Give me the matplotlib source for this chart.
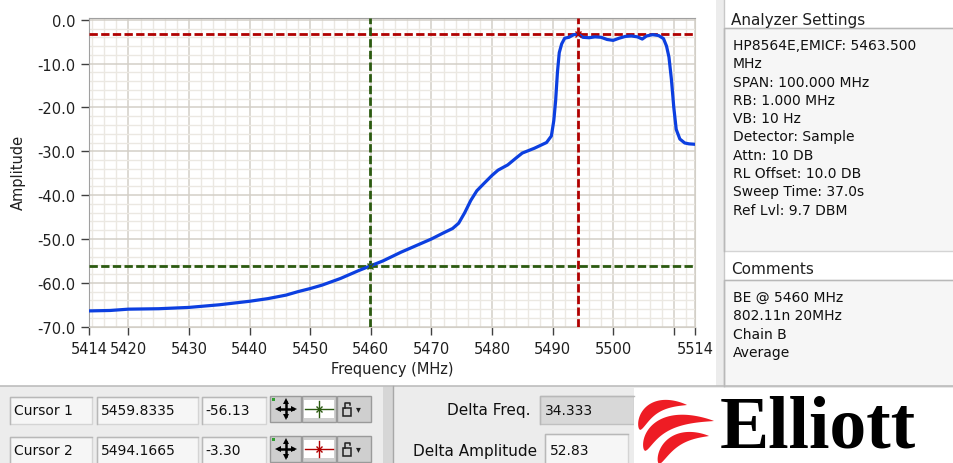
import matplotlib
matplotlib.use('Agg')
import matplotlib.pyplot as plt
import numpy as np
from matplotlib.patches import Rectangle, Polygon

W, H = 954, 464

# spectrum trace (MHz, dB)
freq = [5413.5, 5417, 5420, 5425, 5430, 5435, 5440, 5443, 5446, 5448,
        5450, 5452, 5455, 5458, 5460, 5462, 5465, 5468, 5470, 5472,
        5473.5, 5474.5, 5475.5, 5476.5, 5477.5, 5478.7, 5480, 5481, 5482.6, 5484,
        5485, 5487, 5489, 5489.8, 5490.2, 5490.5, 5490.8, 5491.1, 5491.5, 5492,
        5492.7, 5493.5, 5494.2, 5495, 5496, 5497, 5498, 5499, 5500, 5501,
        5502, 5503, 5504, 5504.8, 5505.5, 5506.5, 5507.5, 5508.3, 5508.8, 5509.2,
        5509.6, 5510, 5510.4, 5511, 5511.8, 5512.5, 5513.5]
amp = [-66.4, -66.3, -66.0, -65.9, -65.6, -65.0, -64.2, -63.6, -62.8, -62.0,
       -61.3, -60.5, -59.0, -57.2, -56.1, -55.0, -53.0, -51.2, -50.0, -48.6,
       -47.6, -46.4, -44.0, -41.2, -39.0, -37.3, -35.5, -34.3, -33.1, -31.5,
       -30.4, -29.3, -28.0, -26.5, -23.0, -18.5, -12.0, -7.5, -5.5, -4.2,
       -4.0, -3.4, -3.3, -4.0, -4.1, -3.9, -4.0, -4.5, -4.7, -4.2,
       -3.8, -3.7, -3.9, -4.4, -3.7, -3.4, -3.6, -4.3, -6.0, -8.5,
       -13.5, -20.0, -25.0, -27.2, -28.1, -28.3, -28.4]

cursor1 = (5459.8335, -56.13)
cursor2 = (5494.1665, -3.30)
delta_freq = 34.333
delta_amp = 52.83

x_ticks = [5413.5, 5420, 5430, 5440, 5450, 5460, 5470, 5480, 5490, 5500, 5510, 5513.5]
x_labels = ['5414', '5420', '5430', '5440', '5450', '5460', '5470', '5480',
            '5490', '5500', '', '5514']
y_ticks = [0, -10, -20, -30, -40, -50, -60, -70]

settings = ['HP8564E,EMICF: 5463.500', 'MHz', 'SPAN: 100.000 MHz', 'RB: 1.000 MHz',
            'VB: 10 Hz', 'Detector: Sample', 'Attn: 10 DB', 'RL Offset: 10.0 DB',
            'Sweep Time: 37.0s', 'Ref Lvl: 9.7 DBM']
comments = ['BE @ 5460 MHz', '802.11n 20MHz', 'Chain B', 'Average']

green = '#2b5a10'
red = '#b00000'

plt.rcParams['font.family'] = 'DejaVu Sans'
plt.rcParams['axes.unicode_minus'] = False

fig = plt.figure(figsize=(9.54, 4.64), dpi=100)
fig.patch.set_facecolor('white')

# background layer in pixel units (y down)
bg = fig.add_axes([0, 0, 1, 1])
bg.set_xlim(0, W)
bg.set_ylim(H, 0)
bg.axis('off')


def box(x0, y0, x1, y1, fill='#f6f6f6', edge='#d4d4d4'):
    bg.add_patch(Rectangle((x0, y0), x1 - x0, y1 - y0, facecolor=fill, edgecolor=edge, lw=1))
    bg.plot([x0, x0, x1], [y1, y0, y0], color='#b8b8b8', lw=1)


def swoosh(p0, p1, p2, thick):
    t = np.linspace(0, 1, 60)[:, None]
    p0, p1, p2 = np.array(p0), np.array(p1), np.array(p2)
    pts = (1 - t) ** 2 * p0 + 2 * (1 - t) * t * p1 + t ** 2 * p2
    d = 2 * (1 - t) * (p1 - p0) + 2 * t * (p2 - p1)
    n = np.column_stack([-d[:, 1], d[:, 0]]) / np.hypot(d[:, 0], d[:, 1])[:, None]
    prof = t ** 0.6 * (1 - t) ** 0.9
    off = thick * prof / prof.max() / 2
    poly = np.vstack([pts + n * off, (pts - n * off)[::-1]])
    bg.add_patch(Polygon(poly, closed=True, facecolor='#ee1c24', edgecolor='none'))


# bottom panel
bg.add_patch(Rectangle((0, 387), W, H - 387, facecolor='#ececec', edgecolor='none'))
bg.plot([0, W], [387, 387], color='#bdbdbd', lw=1.2)
bg.add_patch(Rectangle((383, 387), 10, H - 387, facecolor='#d6d6d6', edgecolor='none'))
bg.plot([393, 393], [387, H], color='#a8a8a8', lw=1)

# right panel
bg.add_patch(Rectangle((716, 0), 8, 387, facecolor='#ececec', edgecolor='none'))
bg.plot([724, 724], [0, 387], color='#c8c8c8', lw=1)
bg.text(731, 20, 'Analyzer Settings', fontsize=11, va='center', color='#202020')
box(724, 29, 954, 252)
for i, line in enumerate(settings):
    bg.text(733, 46 + 18.3 * i, line, fontsize=10, va='center', color='#101010')
bg.text(731, 270, 'Comments', fontsize=11, va='center', color='#202020')
box(724, 281, 954, 387)
for i, line in enumerate(comments):
    bg.text(733, 298 + 18.3 * i, line, fontsize=10, va='center', color='#101010')

# cursor rows
for k, (cur, col) in enumerate([(cursor1, green), (cursor2, red)]):
    y0 = 398 + 40 * k
    yc = y0 + 13.5
    box(10, y0, 92, y0 + 27)
    bg.text(14, yc, 'Cursor %d' % (k + 1), fontsize=10, va='center', color='#101010')
    box(97, y0, 198, y0 + 27)
    bg.text(101, yc, '%.4f' % cur[0], fontsize=10, va='center', color='#101010')
    box(202, y0, 266, y0 + 27)
    bg.text(205, yc, '%.2f' % cur[1], fontsize=10, va='center', color='#101010')
    by = y0 - 1
    for bx0, bx1 in [(270, 301), (302, 336), (337, 371)]:
        bg.add_patch(Rectangle((bx0, by), bx1 - bx0, 26, facecolor='#cfcfcf',
                               edgecolor='#9a9a9a', lw=1))
    # move button
    my = by + 13
    bg.add_patch(Rectangle((272, by + 2), 3, 3, facecolor='#30a030', edgecolor='none'))
    bg.plot([279, 293], [my, my], color='black', lw=1.8)
    bg.plot([286, 286], [my - 7, my + 7], color='black', lw=1.8)
    for mx, mmy, mk in [(278, my, '<'), (294, my, '>'), (286, my - 8, '^'), (286, my + 8, 'v')]:
        bg.plot(mx, mmy, marker=mk, ms=4.5, color='black', mew=0)
    # crosshair button
    bg.add_patch(Rectangle((304, by + 4), 30, 18, facecolor='white', edgecolor='none'))
    bg.plot([305, 333], [by + 13, by + 13], color=col, lw=1)
    bg.plot([319, 319], [by + 5, by + 21], color=col, lw=1)
    bg.plot([319], [by + 13], marker='x', ms=5, color=col, mew=1)
    # lock button
    bg.add_patch(Rectangle((343, by + 12), 8, 8, facecolor='none', edgecolor='#202020', lw=1.1))
    bg.plot([345, 345, 350, 350], [by + 12, by + 7, by + 7, by + 9], color='#202020', lw=1.1)
    bg.text(358, by + 12, '\u25be', fontsize=7, va='center', ha='center', color='#202020')

# delta readouts
bg.text(531, 411, 'Delta Freq.', fontsize=11, ha='right', va='center', color='#101010')
box(540, 397, 634, 425, fill='#d8d8d8', edge='#c0c0c0')
bg.text(545, 411, '%.3f' % delta_freq, fontsize=10, va='center', color='#101010')
bg.text(537, 452, 'Delta Amplitude', fontsize=11, ha='right', va='center', color='#101010')
box(545, 435, 628, 466)
bg.text(550, 451, '%.2f' % delta_amp, fontsize=10, va='center', color='#101010')

# logo
bg.add_patch(Rectangle((634, 389), W - 634, H - 389, facecolor='white', edgecolor='none'))
swoosh((640, 431), (647, 399), (687, 406), 12)
swoosh((645, 452), (654, 413), (714, 422), 14)
swoosh((659, 465), (669, 432), (709, 437), 12)
bg.text(720, 463.5, 'Elliott', fontfamily='Liberation Serif', fontweight='bold',
        fontsize=53, va='bottom', color='black')

# graph
ax = fig.add_axes([89 / W, 1 - 327.7 / H, 606 / W, 308.7 / H])
ax.set_facecolor('white')
ax.set_xlim(5413.5, 5513.5)
ax.set_ylim(-70, 0.4)
ax.set_xticks(x_ticks)
ax.set_xticklabels(x_labels)
ax.set_yticks(y_ticks)
ax.set_yticklabels(['%.1f' % v for v in y_ticks])
ax.set_xticks(np.arange(5414, 5514, 2), minor=True)
ax.set_yticks(np.arange(-70, 0.1, 2), minor=True)
ax.grid(which='minor', color='#ebe8e2', lw=1)
ax.grid(which='major', color='#d3cfc7', lw=1.1)
ax.set_axisbelow(True)
ax.tick_params(which='minor', length=0)
ax.tick_params(which='major', direction='out', length=6, width=1, color='#404040',
               labelsize=10.5, labelcolor='#202020', pad=4)
for side in ['left', 'top']:
    ax.spines[side].set_color('#a0a0a0')
for side in ['right', 'bottom']:
    ax.spines[side].set_color('#d3cfc7')

ax.axhline(cursor2[1], color=red, lw=2, dashes=(3, 1.2), zorder=3)
ax.axvline(cursor2[0], color=red, lw=2, dashes=(3, 1.2), zorder=3)
ax.axhline(cursor1[1], color=green, lw=2, dashes=(3, 1.2), zorder=3)
ax.axvline(cursor1[0], color=green, lw=2, dashes=(3, 1.2), zorder=3)
ax.plot(freq, amp, color='#0c3fe0', lw=2.3, zorder=4)
ax.plot(*cursor1, marker='x', ms=5, color=green, mew=1, zorder=5)
ax.plot(*cursor2, marker='x', ms=5, color=red, mew=1, zorder=5)

bg.text(18, 172, 'Amplitude', rotation=90, fontsize=10.5, ha='center', va='center', color='#202020')
bg.text(392, 370, 'Frequency (MHz)', fontsize=10.5, ha='center', va='center', color='#202020')

fig.savefig('out.png', dpi=100, facecolor='white')
